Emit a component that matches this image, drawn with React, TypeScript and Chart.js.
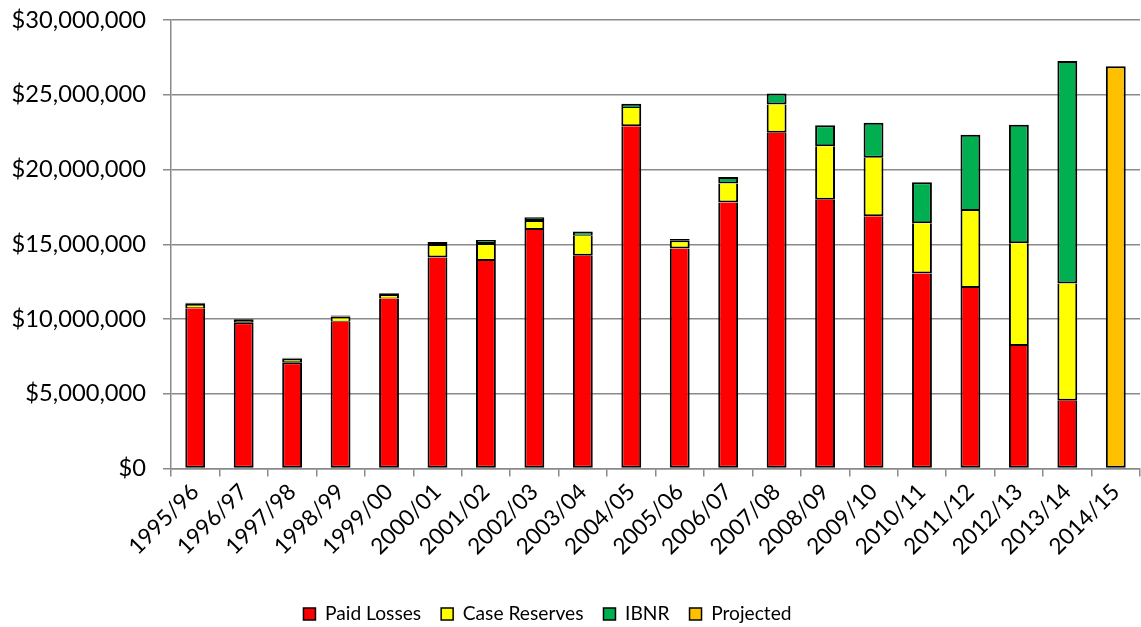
import React, { useEffect, useRef } from "react";
import { Chart, registerables } from "chart.js";

Chart.register(...registerables);

const categories = [
  "1995/96", "1996/97", "1997/98", "1998/99", "1999/00", "2000/01", "2001/02",
  "2002/03", "2003/04", "2004/05", "2005/06", "2006/07", "2007/08", "2008/09",
  "2009/10", "2010/11", "2011/12", "2012/13", "2013/14", "2014/15",
];

const paidLosses = [
  10720000, 9790000, 7110000, 9810000, 11370000, 14120000, 13880000, 15950000,
  14230000, 22890000, 14720000, 17800000, 22450000, 17980000, 16870000,
  13050000, 12070000, 8200000, 4540000, null,
];

const caseReserves = [
  300000, 150000, 240000, 360000, 300000, 900000, 1200000, 670000, 1340000,
  1230000, 550000, 1270000, 1900000, 3570000, 3910000, 3350000, 5160000,
  6860000, 7840000, null,
];

const ibnr = [
  60000, 50000, 50000, 60000, 60000, 130000, 200000, 180000, 290000, 270000,
  80000, 430000, 730000, 1410000, 2340000, 2740000, 5090000, 7930000,
  14870000, null,
];

const projected = [
  null, null, null, null, null, null, null, null, null, null, null, null, null,
  null, null, null, null, null, null, 26910000,
];

const yTicks = [0, 5000000, 10000000, 15000000, 20000000, 25000000, 30000000];

const FONT = "Lato";
const GRID = "#8a8a8a";
const LEGEND_FONT = 19.2;
const LEGEND_PAD = 20;

export default function App() {
  const ref = useRef<HTMLCanvasElement | null>(null);

  useEffect(() => {
    document.body.style.margin = "0";
    if (!ref.current) return;
    const series = [paidLosses, caseReserves, ibnr, projected];

    const borderWidthFn = (ctx: any) => {
      const i = ctx.dataIndex;
      const di = ctx.datasetIndex;
      let hasAbove = false;
      for (let k = di + 1; k < series.length; k++) {
        const v = series[k][i];
        if (v != null && v >= 250000) hasAbove = true;
      }
      const own = series[di][i];
      const small = own != null && own < 400000;
      const tb = small ? 1 : 2;
      return { top: hasAbove ? 0 : 2, bottom: tb, left: 2, right: 2 };
    };

    const legendShift = {
      id: "legendShift",
      afterLayout(chart: any) {
        const l = chart.legend;
        if (!l) return;
        l.top += 6.6;
        l.bottom += 6.6;
        l.left -= 22.5;
        l.right -= 22.5;
      },
    };

    const mk = (label: string, data: any[], color: string) => ({
      label,
      data,
      backgroundColor: color,
      borderColor: "#000000",
      borderWidth: borderWidthFn,
      borderSkipped: false,
      barPercentage: 0.41,
      categoryPercentage: 1,
    });

    const legendHeight = LEGEND_FONT + LEGEND_PAD + 10;

    const chart = new Chart(ref.current, {
      type: "bar",
      data: {
        labels: categories,
        datasets: [
          mk("Paid Losses", paidLosses, "#ff0000"),
          mk("Case Reserves", caseReserves, "#ffff00"),
          mk("IBNR", ibnr, "#00b050"),
          mk("Projected", projected, "#ffc000"),
        ] as any,
      },
      options: {
        responsive: false,
        animation: false,
        layout: { padding: { top: 20, right: 1, left: 0, bottom: 0 } },
        plugins: {
          tooltip: { enabled: false },
          legend: {
            position: "bottom",
            labels: {
              boxWidth: 12,
              boxHeight: 12,
              padding: LEGEND_PAD,
              color: "#000",
              font: { family: FONT, size: LEGEND_FONT },
              generateLabels: (chart: any) =>
                chart.data.datasets.map((ds: any, i: number) => ({
                  text: ds.label,
                  fillStyle: ds.backgroundColor,
                  strokeStyle: "#000",
                  lineWidth: 1.5,
                  hidden: false,
                  datasetIndex: i,
                  fontColor: "#000",
                })),
            },
          },
        },
        scales: {
          x: {
            stacked: true,
            afterFit: (s: any) => {
              s.height = 627 - legendHeight - 468.5;
              s.paddingLeft = 0;
              s.paddingRight = 0;
              s.paddingTop = 0;
              s.paddingBottom = 0;
            },
            grid: {
              offset: true,
              drawOnChartArea: false,
              drawTicks: true,
              tickLength: 8,
              color: GRID,
              lineWidth: 1.5,
            },
            border: { color: GRID, width: 1.5 },
            ticks: {
              minRotation: 45,
              maxRotation: 45,
              padding: 2,
              color: "#000",
              font: { family: FONT, size: 22.5 },
            },
          },
          y: {
            stacked: true,
            min: 0,
            max: 30000000,
            afterFit: (s: any) => {
              s.width = 171;
              s.paddingTop = 0;
              s.paddingBottom = 0;
              s.paddingLeft = 0;
              s.paddingRight = 0;
            },
            afterBuildTicks: (s: any) => {
              s.ticks = yTicks.map((v) => ({ value: v }));
            },
            grid: {
              color: GRID,
              lineWidth: 1.5,
              drawTicks: true,
              tickLength: 8,
            },
            border: { color: GRID, width: 1.5 },
            ticks: {
              padding: 17,
              color: "#000",
              font: { family: FONT, size: 23.7 },
              callback: (v: any) => "$" + Number(v).toLocaleString("en-US"),
            },
          },
        },
      },
      plugins: [legendShift],
    } as any);
    return () => chart.destroy();
  }, []);

  return (
    <div style={{ width: 1141, height: 627 }}>
      <canvas ref={ref} width={1141} height={627} style={{ display: "block" }} />
    </div>
  );
}
